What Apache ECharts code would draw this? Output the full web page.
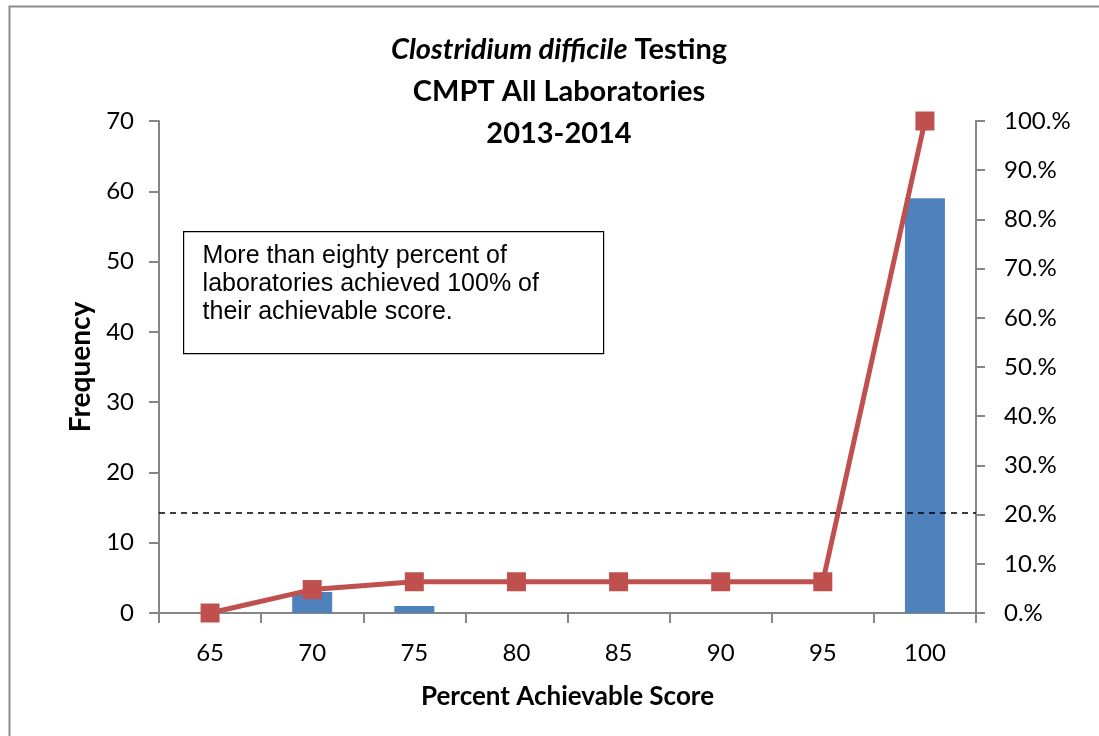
<!DOCTYPE html>
<html>
<head>
<meta charset="utf-8">
<script src="https://cdn.jsdelivr.net/npm/echarts@6/dist/echarts.min.js"></script>
<style>
    html, body { margin: 0; padding: 0; background: #fff; }
    #graph { width: 1099px; height: 736px; }
</style>
</head>
<body>
<div id="graph"></div>
<script>
    var categories = ['65', '70', '75', '80', '85', '90', '95', '100'];
    var frequency = [0, 3, 1, 0, 0, 0, 0, 59];
    var cumulativePct = [0, 4.76, 6.35, 6.35, 6.35, 6.35, 6.35, 100];
    var thresholdPct = 20.3;
    var noteLines = ['More than eighty percent of', 'laboratories achieved 100% of', 'their achievable score.'];

    var axisGray = '#868686';
    var font = 'Lato';

    var option = {
        animation: false,
        backgroundColor: '#fff',
        title: {
            text: '{i|Clostridium difficile}{b| Testing}\n{b|CMPT All Laboratories}\n{b|2013-2014}',
            left: 554,
            top: 24,
            textAlign: 'center',
            textStyle: {
                rich: {
                    i: {fontFamily: font, fontSize: 29, fontWeight: 'bold', fontStyle: 'italic', color: '#000', lineHeight: 42},
                    b: {fontFamily: font, fontSize: 29, fontWeight: 'bold', color: '#000', lineHeight: 42}
                }
            }
        },
        grid: {left: 159, right: 123, top: 121, bottom: 123},
        xAxis: {
            type: 'category',
            data: categories,
            name: 'Percent Achievable Score',
            nameLocation: 'middle',
            nameGap: 71,
            nameTextStyle: {fontFamily: font, fontSize: 26, fontWeight: 'bold', color: '#000'},
            axisLine: {lineStyle: {color: axisGray, width: 2}},
            axisTick: {show: true, length: 10, lineStyle: {color: axisGray, width: 2}},
            axisLabel: {fontFamily: font, fontSize: 24, color: '#000', margin: 28}
        },
        yAxis: [{
            type: 'value',
            min: 0,
            max: 70,
            interval: 10,
            name: 'Frequency',
            nameLocation: 'middle',
            nameGap: 63,
            nameTextStyle: {fontFamily: font, fontSize: 28, fontWeight: 'bold', color: '#000'},
            splitLine: {show: false},
            axisLine: {show: true, lineStyle: {color: axisGray, width: 2}},
            axisTick: {show: true, length: 10, lineStyle: {color: axisGray, width: 2}},
            axisLabel: {fontFamily: font, fontSize: 24, color: '#000', margin: 25}
        }, {
            type: 'value',
            min: 0,
            max: 100,
            interval: 10,
            position: 'right',
            splitLine: {show: false},
            axisLine: {show: true, lineStyle: {color: axisGray, width: 2}},
            axisTick: {show: true, length: 9, lineStyle: {color: axisGray, width: 2}},
            axisLabel: {fontFamily: font, fontSize: 24, color: '#000', margin: 28,
                formatter: function (v) { return v + '.%'; }}
        }],
        series: [{
            name: 'Frequency',
            type: 'bar',
            data: frequency,
            barWidth: 40,
            itemStyle: {color: '#4F81BD'}
        }, {
            name: 'Cumulative %',
            type: 'line',
            yAxisIndex: 1,
            data: cumulativePct,
            symbol: 'rect',
            symbolSize: 19,
            lineStyle: {color: '#C0504D', width: 5},
            itemStyle: {color: '#C0504D'},
            markLine: {
                silent: true,
                symbol: 'none',
                label: {show: false},
                lineStyle: {color: '#000', type: [6, 5], width: 1.5},
                data: [{yAxis: thresholdPct}]
            }
        }],
        graphic: [{
            type: 'rect',
            left: 7,
            top: 4,
            shape: {width: 1200, height: 800},
            style: {fill: 'none', stroke: '#8c8c8c', lineWidth: 2},
            silent: true
        }, {
            type: 'group',
            left: 183,
            top: 231,
            children: [{
                type: 'rect',
                shape: {x: 0, y: 0, width: 420, height: 122},
                style: {fill: '#fff', stroke: '#000', lineWidth: 1.2}
            }, {
                type: 'text',
                x: 19,
                y: 11,
                style: {
                    text: noteLines.join('\n'),
                    font: '25px "Liberation Sans"',
                    lineHeight: 28,
                    fill: '#000'
                }
            }]
        }]
    };

    var chart = echarts.init(document.getElementById('graph'));
    chart.setOption(option);
</script>
</body>
</html>
